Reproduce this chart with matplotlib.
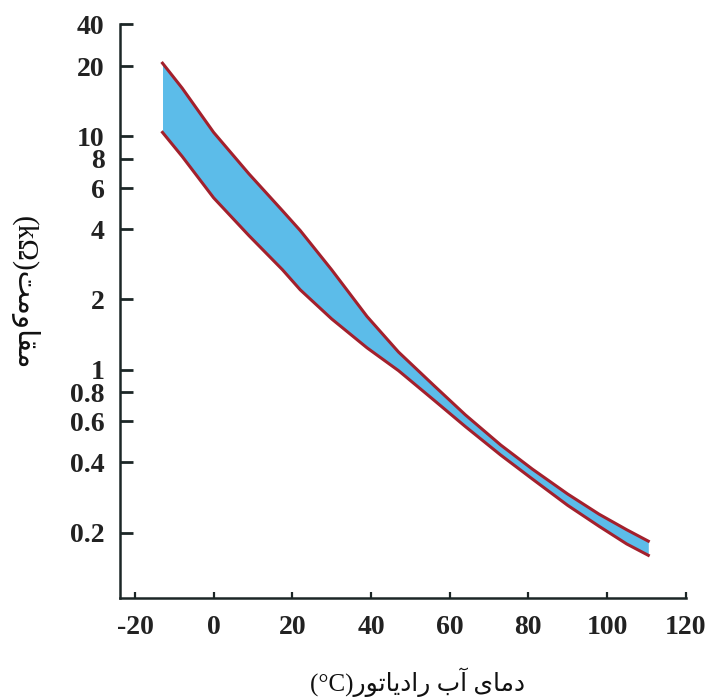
import numpy as np
import matplotlib
matplotlib.use("Agg")
import matplotlib.pyplot as plt
from matplotlib.ticker import FixedLocator, FixedFormatter, NullLocator

# radiator water temperature (°C) and sensor resistance band (kOhm)
temp_c = [-13, -8, 0, 9, 17.5, 22, 30, 39, 47, 56, 64, 73, 81, 90, 98, 105, 110.5]
r_upper = [21.0, 16.1, 10.4, 6.9, 4.8, 3.95, 2.68, 1.69, 1.19, 0.855, 0.64,
           0.475, 0.375, 0.293, 0.24, 0.206, 0.184]
r_lower = [10.4, 8.2, 5.45, 3.75, 2.68, 2.2, 1.65, 1.24, 0.99, 0.74, 0.57,
           0.43, 0.34, 0.262, 0.213, 0.179, 0.16]

x_ticks = [-20, 0, 20, 40, 60, 80, 100, 120]
y_ticks = [0.2, 0.4, 0.6, 0.8, 1, 2, 4, 6, 8, 10, 20, 40]
y_tick_labels = ['0.2', '0.4', '0.6', '0.8', '1', '2', '4', '6', '8', '10', '20', '40']

# persian labels, pre-shaped (presentation forms, visual order)
xlabel = ("(°C)" + "\uFEAD\uFEEE\uFE97\uFE8E\uFBFE\uFEA9\uFE8D\uFEAD" + " "
          + "\uFE8F\uFE81" + " " + "\uFBFC\uFE8E\uFEE3\uFEA9")
ylabel = "(k\u03A9)" + "\uFE96\uFEE3\uFEED\uFE8E\uFED8\uFEE3"

# log scale, but the top step (20 -> 40) is drawn compressed like the original
L20 = np.log10(20)
SQ = 0.6


def fwd(y):
    ly = np.log10(np.clip(y, 1e-12, None))
    return np.where(ly > L20, L20 + (ly - L20) * SQ, ly)


def inv(v):
    v = np.asarray(v, dtype=float)
    return np.where(v > L20, 10 ** (L20 + (v - L20) / SQ), 10 ** v)


fig = plt.figure(figsize=(7.17, 6.98), dpi=100)
ax = fig.add_axes([0.1674, 0.1433, 0.7889, 0.8223])

ax.fill_between(temp_c, r_lower, r_upper, color='#5cbce9', lw=0, zorder=2)
ax.plot(temp_c, r_upper, color='#a3202c', lw=2.2, zorder=3)
ax.plot(temp_c, r_lower, color='#a3202c', lw=2.2, zorder=3)

ax.set_yscale('function', functions=(fwd, inv))
ax.set_ylim(0.105, 40)
ax.set_xlim(-23.8, 120)

ax.yaxis.set_major_locator(FixedLocator(y_ticks))
ax.yaxis.set_major_formatter(FixedFormatter(y_tick_labels))
ax.yaxis.set_minor_locator(NullLocator())
ax.set_xticks(x_ticks)
ax.set_xticklabels([str(t) for t in x_ticks])

for s in ['top', 'right']:
    ax.spines[s].set_visible(False)
for s in ['left', 'bottom']:
    ax.spines[s].set_linewidth(1.8)
    ax.spines[s].set_color('#1c2626')

ax.tick_params(axis='y', direction='in', length=9, width=2.0, pad=11,
               color='#1c2626', labelsize=20)
ax.tick_params(axis='x', direction='in', length=4, width=1.6, pad=12,
               color='#1c2626', labelsize=20)
for lab in ax.get_xticklabels() + ax.get_yticklabels():
    lab.set_family('Liberation Serif')
    lab.set_fontweight('bold')
    lab.set_color('#222222')

fig.text(418 / 717, 1 - 682 / 698, xlabel, ha='center', va='center',
         fontsize=18, family=['Liberation Serif', 'DejaVu Sans'], color='#111111')
fig.text(24 / 717, 1 - 293 / 698, ylabel, ha='center', va='center', rotation=270,
         fontsize=21, family=['Liberation Serif', 'DejaVu Sans'], color='#111111')

fig.savefig('out.png', dpi=100)
